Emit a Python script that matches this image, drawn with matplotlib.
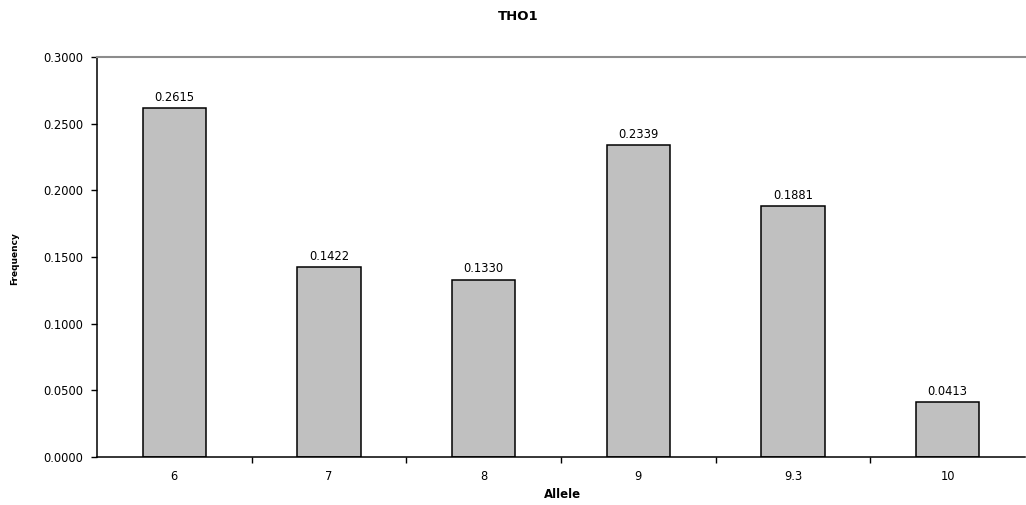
import matplotlib.pyplot as plt

plt.rcParams["font.family"] = ["DejaVu Sans"]

alleles = ["6", "7", "8", "9", "9.3", "10"]
frequency = [0.2615, 0.1422, 0.1330, 0.2339, 0.1881, 0.0413]
y_ticks = [0.0, 0.05, 0.10, 0.15, 0.20, 0.25, 0.30]

fig = plt.figure(figsize=(10.26, 5.05), dpi=100)
ax = fig.add_axes([97 / 1026, 48 / 505, 928 / 1026, 400 / 505])

pos = list(range(len(alleles)))
ax.bar(pos, frequency, width=0.41, color="#c0c0c0", edgecolor="black", linewidth=1.1, zorder=2)

for x, v in zip(pos, frequency):
    ax.annotate(f"{v:.4f}", (x, v), xytext=(0, 3), textcoords="offset points",
                ha="center", va="bottom", fontsize=8.3)

ax.set_xlim(-0.5, len(alleles) - 0.5)
ax.set_ylim(0, 0.3)
ax.set_yticks(y_ticks)
ax.set_yticklabels([f"{t:.4f}" for t in y_ticks])
ax.set_xticks(pos)
ax.set_xticklabels(alleles)
ax.tick_params(axis="x", length=0, labelsize=8.3, pad=9)
# category separators sit between the bars, like Excel's tick marks
ax.set_xticks([p + 0.5 for p in pos[:-1]], minor=True)
ax.tick_params(axis="x", which="minor", length=4, width=1, direction="out")
ax.tick_params(axis="y", length=4, width=1, direction="out", labelsize=8.3, pad=6)

ax.spines["right"].set_visible(False)
ax.spines["top"].set_color("#8c8c8c")
ax.spines["top"].set_linewidth(1.5)
for s in ("left", "bottom"):
    ax.spines[s].set_linewidth(1.1)

fig.text(563 / 1026, 1 - 494 / 505, "Allele", fontsize=8.5, fontweight="bold",
         ha="center", va="center")
fig.text(15 / 1026, 1 - 259 / 505, "Frequency", fontsize=6.5, fontweight="bold",
         rotation=90, ha="center", va="center")
fig.text(518 / 1026, 1 - 16 / 505, "THO1", fontsize=9.5, fontweight="bold",
         ha="center", va="center")

fig.savefig("out.png", dpi=100)
